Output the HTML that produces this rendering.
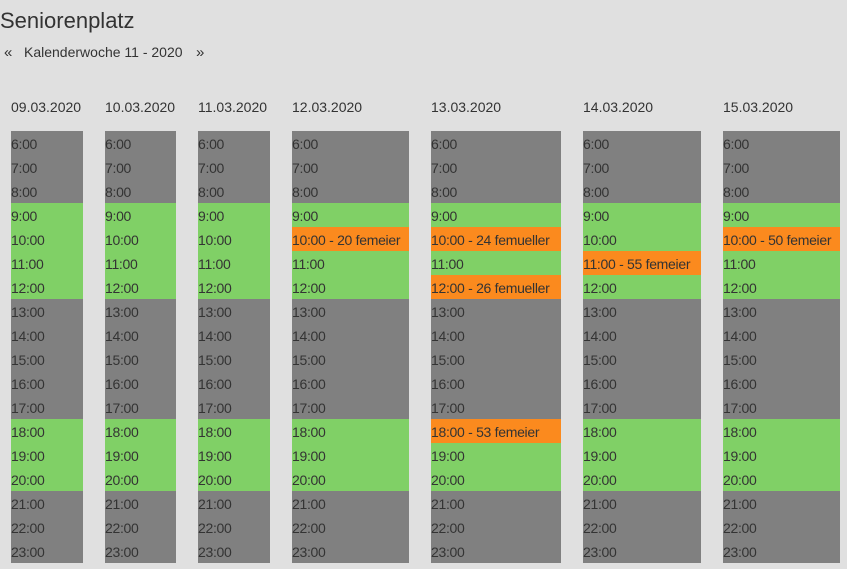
<!DOCTYPE html>
<html><head><meta charset="utf-8"><style>
body{margin:0;width:847px;height:569px;background:#e0e0e0;font-family:"Liberation Sans",sans-serif;color:#333;position:relative;overflow:hidden}
.t{position:absolute;white-space:nowrap}
.cell{position:absolute;height:24px;line-height:26px;font-size:14px;overflow:hidden;white-space:nowrap;color:#333;letter-spacing:-0.3px}
</style></head><body>
<div class="t" style="left:0;top:8px;font-size:22px;">Seniorenplatz</div>
<div class="t" style="left:4px;top:44px;font-size:15px;">«</div>
<div class="t" style="left:24px;top:44px;font-size:14px;">Kalenderwoche 11 - 2020</div>
<div class="t" style="left:196px;top:44px;font-size:15px;">»</div>
<div id="cal"></div>
<script>
const dates=["09.03.2020","10.03.2020","11.03.2020","12.03.2020","13.03.2020","14.03.2020","15.03.2020"];
const hours=[6,7,8,9,10,11,12,13,14,15,16,17,18,19,20,21,22,23];
const openHours=[9,10,11,12,18,19,20];
const bookings=[[],[],[],[[10,"20 femeier"]],[[10,"24 femueller"],[12,"26 femueller"],[18,"53 femeier"]],[[11,"55 femeier"]],[[10,"50 femeier"]]];
const colX=[11,105,198,292,431,583,723];
const colW=[72,71,72,117,130,118,117];
const cal=document.getElementById('cal');
dates.forEach((d,i)=>{
  const h=document.createElement('div');
  h.className='t';
  
  
  h.style.cssText=`left:${colX[i]}px;top:99px;font-size:14px;`;
  h.textContent=d;cal.appendChild(h);
  hours.forEach((hr,j)=>{
    const c=document.createElement('div');
    c.className='cell';
    const b=bookings[i].find(x=>x[0]===hr);
    let bg='#808080',txt=hr+':00';
    if(b){bg='#fb8a1e';txt=hr+':00 - '+b[1];}
    else if(openHours.includes(hr))bg='#80d066';
    
    
    c.style.cssText=`left:${colX[i]}px;top:${131+j*24}px;width:${colW[i]}px;background:${bg};`;
    c.textContent=txt;cal.appendChild(c);
  });
});
</script>
</body></html>
